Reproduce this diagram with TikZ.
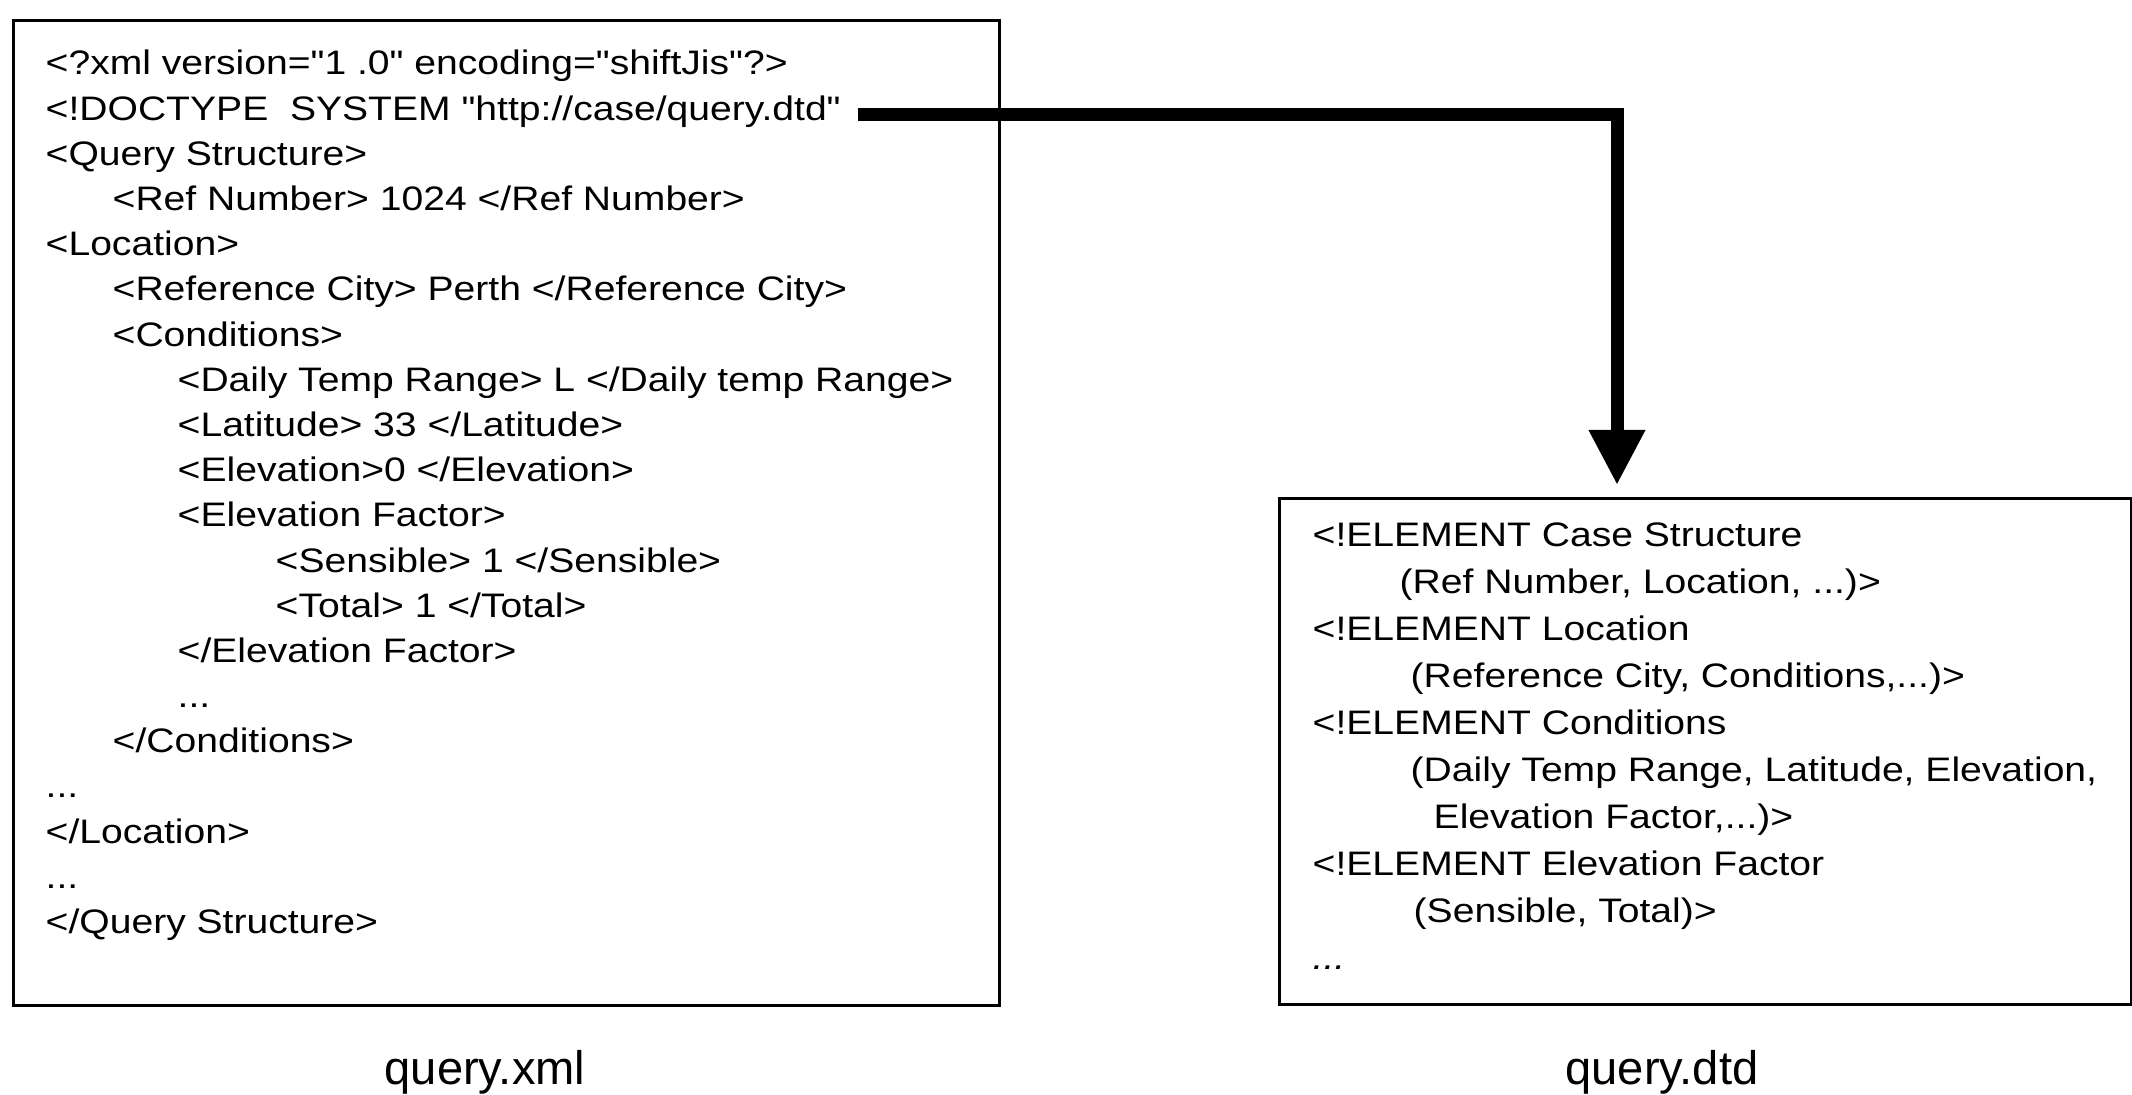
\documentclass[tikz,border=0pt]{standalone}
\usepackage{fontspec}
\setmainfont{Liberation Sans}
\newfontfamily\listingfont{Liberation Sans}[FakeStretch=1.15]
\usepackage{tikz}
\usetikzlibrary{positioning}
\usetikzlibrary{arrows.meta}

\begin{document}
\begin{tikzpicture}[
 filebox/.style={rectangle, draw, line width=0.9pt, inner sep=0pt, anchor=north west},
 listing/.style={anchor=north west, inner sep=0pt, align=left},
 caption/.style={anchor=base, inner sep=0pt, font=\fontsize{13.4}{16}\selectfont},
 link/.style={line width=3.7pt, -{Triangle[width=0.53cm,length=0.55cm]}}
]
\useasboundingbox (0,0) rectangle (21.32,-10.95);

% the two files
\node[filebox,
 minimum width = 9.86cm,
 minimum height = 9.85cm] (xml) at (0.12,-0.19) {};
\node[filebox,
 minimum width = 8.52cm,
 minimum height = 5.06cm] (dtd) at (12.78,-4.97) {};

\node[listing, font={\listingfont\fontsize{9.67}{12.86}\selectfont}] (xmltext) at (0.45,-0.495) {%
<?xml version="1 .0" encoding="shiftJis"?>\\
<!DOCTYPE\ \ SYSTEM "http://case/query.dtd"\\
<Query Structure>\\
\hspace*{0.67cm}<Ref Number> 1024 </Ref Number>\\
<Location>\\
\hspace*{0.67cm}<Reference City> Perth </Reference City>\\
\hspace*{0.67cm}<Conditions>\\
\hspace*{1.32cm}<Daily Temp Range> L </Daily temp Range>\\
\hspace*{1.32cm}<Latitude> 33 </Latitude>\\
\hspace*{1.32cm}<Elevation>0 </Elevation>\\
\hspace*{1.32cm}<Elevation Factor>\\
\hspace*{2.30cm}<Sensible> 1 </Sensible>\\
\hspace*{2.30cm}<Total> 1 </Total>\\
\hspace*{1.32cm}</Elevation Factor>\\
\hspace*{1.32cm}...\\
\hspace*{0.67cm}</Conditions>\\
...\\
</Location>\\
...\\
</Query Structure>};

\node[listing, font={\listingfont\fontsize{9.67}{13.37}\selectfont}] (dtdtext) at (13.12,-5.225) {%
<!ELEMENT Case Structure\\
\hspace*{0.87cm}(Ref Number, Location, ...)>\\
<!ELEMENT Location\\
\hspace*{0.98cm}(Reference City, Conditions,...)>\\
<!ELEMENT Conditions\\
\hspace*{0.98cm}(Daily Temp Range, Latitude, Elevation,\\
\hspace*{1.21cm}Elevation Factor,...)>\\
<!ELEMENT Elevation Factor\\
\hspace*{1.01cm}(Sensible, Total)>\\
{\itshape ...}};

\node[caption] (xmlname) at (4.85,-10.85) {query.xml};
\node[caption] (dtdname) at (16.62,-10.85) {query.dtd};

% DOCTYPE reference points to the dtd file
\coordinate (doctype) at (8.58,-1.15);
\coordinate (bend) at (16.17,-1.15);
\draw[link, shorten >=0.12cm] (doctype) -| (bend |- dtd.north);

\end{tikzpicture}
\end{document}
